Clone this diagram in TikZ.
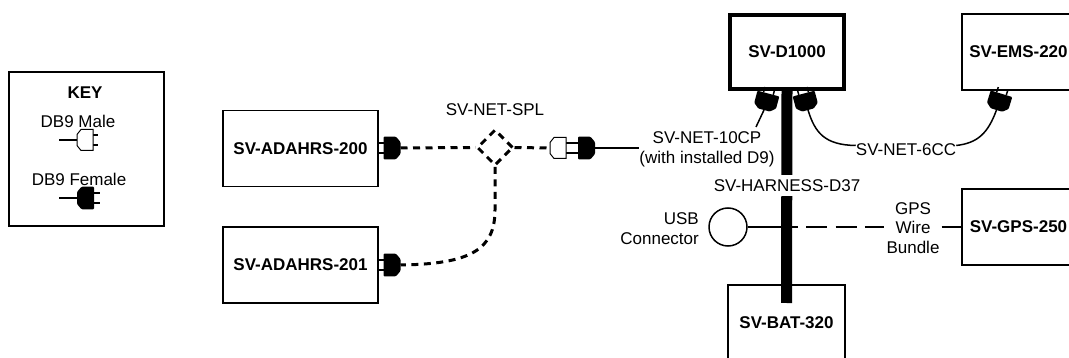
\documentclass[tikz,border=0pt]{standalone}
\usepackage{fontspec}
\setmainfont{Liberation Sans}
\usetikzlibrary{shapes.geometric}
\tikzset{
  box/.style={draw=black,line width=1.5pt,fill=white,inner sep=0pt,align=center,font=\fontsize{17}{20}\selectfont\bfseries},
  lbl/.style={inner sep=0pt,align=center,font=\fontsize{17}{19.5}\selectfont},
  wire/.style={draw=black,line width=1.5pt},
  dashwire/.style={draw=black,line width=3pt,dash pattern=on 7pt off 5.5pt},
  pin/.style={draw=black,line width=1.5pt},
  gpsdash/.style={draw=black,line width=1.5pt,dash pattern=on 21pt off 8.3pt},
}
\newcommand{\femaleconn}[4][22.5]{%
  \coordinate (#2) at #3;
  \begin{scope}[shift={#3},rotate=#4]
    \draw[pin] (17,-5)--(#1,-5) (17,5)--(#1,5);
    \fill[black,rounded corners=1pt] (0,-6)--(4.5,-11.3)--(17,-11.3)--(17,11.3)--(4.5,11.3)--(0,6)--cycle;
  \end{scope}}
\newcommand{\maleconn}[3]{%
  \coordinate (#1) at #2;
  \begin{scope}[shift={#2},rotate=#3]
    \draw[pin] (16,-5)--(21,-5) (16,5)--(21,5);
    \draw[black,line width=1pt,fill=white] (0,-5.5)--(4,-10.5)--(16,-10.5)--(16,10.5)--(4,10.5)--(0,5.5)--cycle;
  \end{scope}}
\begin{document}
\begin{tikzpicture}[x=1pt,y=-1pt]
\useasboundingbox (0,0) rectangle (1069,358);
\clip (0,0) rectangle (1069,358);
\fill[white] (0,0) rectangle (1069,358);
% boxes
\node[box,minimum width=155,minimum height=154] (key) at (86.5,149) {};
\node[box,minimum width=155,minimum height=76] (a200) at (300.5,148.5) {SV-ADAHRS-200};
\node[box,minimum width=155,minimum height=76] (a201) at (300.5,265) {SV-ADAHRS-201};
\node[box,minimum width=117,minimum height=76] (bat) at (786.5,323) {SV-BAT-320};
\node[box,minimum width=114,minimum height=74,line width=4pt] (d1000) at (787,52) {SV-D1000};
\node[box,minimum width=113,minimum height=76] (ems) at (1018.5,52) {SV-EMS-220};
\node[box,minimum width=113,minimum height=76] (gps) at (1018.5,227) {SV-GPS-250};
% key
\node[lbl,font=\fontsize{17}{20}\selectfont\bfseries] (keyt) at (85,93) {KEY};
\node[lbl] (km) at (78,121) {DB9 Male};
\node[lbl] (kf) at (79,179) {DB9 Female};
\coordinate (kma) at (59,140);
\coordinate (kfa) at (59,198);
\maleconn{kmc}{(77,140)}{0}
\femaleconn{kfc}{(77,198)}{0}
\draw[wire] (kma)--(kmc);
\draw[wire] (kfa)--(kfc);
% splitter
\node[lbl] (spllbl) at (495,110) {SV-NET-SPL};
\node[diamond,dashwire,aspect=1,inner sep=0pt,minimum width=36,minimum height=36] (spl) at (495,147.5) {};
\femaleconn{c200}{(400.5,148)}{180}
\femaleconn{c201}{(400.5,265)}{180}
\maleconn{mc}{(550,148)}{0}
\femaleconn[25]{fc}{(595,148)}{180}
\draw[dashwire] (c200)--(spl.west);
\draw[dashwire] (spl.east)--(mc);
\coordinate (sv) at (495,210);
\draw[dashwire] (spl.south)--(sv) .. controls (495,250) and (470,264) .. (c201);
% harness
\coordinate (hend) at (786.5,303);
\draw[black,line width=11pt] (d1000.south)--(hend);
\node[lbl,fill=white,minimum height=21] (hlbl) at (787,186) {SV-HARNESS-D37};
% net 10
\node[lbl] (n10) at (707,149.5) {SV-NET-10CP\\(with installed D9)};
\femaleconn{c1}{(764,110)}{75}
\coordinate (c1end) at (756,127);
\draw[wire] (c1)--(c1end);
\draw[wire] (fc)--(n10.west |- fc);
% net 6
\node[lbl] (n6) at (906,149.5) {SV-NET-6CC};
\femaleconn{c2}{(808,110)}{105}
\femaleconn{c3}{(996.5,110)}{73}
\draw[wire] (c2) .. controls (815,133) and (825,145) .. ([yshift=4pt]n6.west);
\draw[wire] (c3) .. controls (988,133) and (978,143) .. ([yshift=4pt]n6.east);
% usb and gps
\node[draw=black,line width=1.5pt,circle,fill=white,minimum size=38,inner sep=0pt] (usb) at (728,227) {};
\node[lbl,align=right,anchor=east] (usbl) at (699,228.5) {USB\\Connector};
\node[lbl,inner xsep=2pt] (gl) at (913,228) {GPS\\Wire\\Bundle};
\coordinate (hj) at (777,227);
\draw[wire] (usb.east)--(hj);
\draw[gpsdash] (hj)--(gl.west |- hj);
\draw[wire] (gl.east |- hj)--(gps.west);
\draw[black,line width=11pt] (786.5,197)--(hend);
\end{tikzpicture}
\end{document}
